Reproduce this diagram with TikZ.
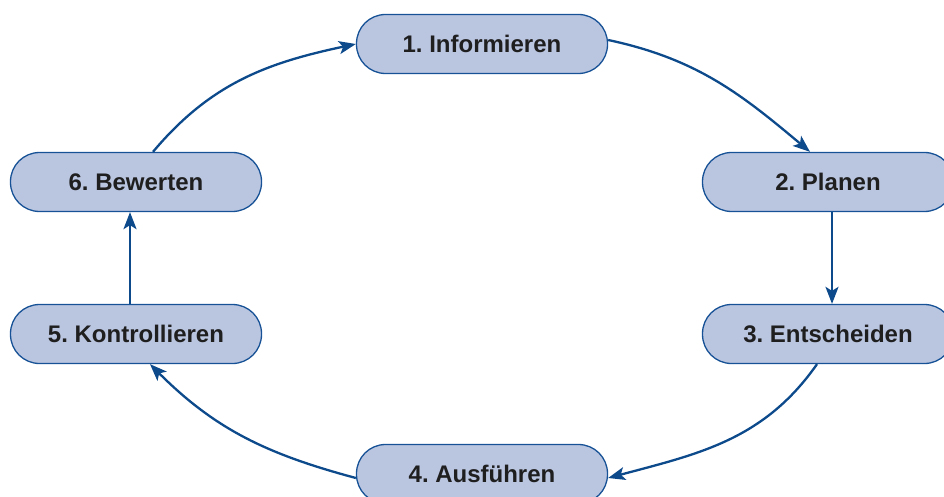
\documentclass[tikz,border=0pt]{standalone}
\usepackage{fontspec}
\setmainfont{Liberation Sans}
\usetikzlibrary{arrows.meta}
\definecolor{stepfill}{RGB}{186,197,224}
\definecolor{stepline}{RGB}{24,82,150}
\definecolor{flowblue}{RGB}{12,74,140}
\frenchspacing

\begin{document}
\begin{tikzpicture}[x=1pt,y=-1pt]
\tikzset{stepbox/.style={
    draw=stepline, fill=stepfill, line width=1.3pt,
    rounded corners=29pt, minimum width=251pt, minimum height=59pt,
    inner sep=0pt, font=\fontsize{24}{26}\selectfont\bfseries, text=black!88
},
flow/.style={
    draw=flowblue, line width=2.3pt,
    -{Stealth[length=17pt,width=13pt,inset=4pt]}
}}
    % Rahmen
    \useasboundingbox (0,0) rectangle (944,497);

    % Schritte
    \node[stepbox] (inform) at (482,44) {1. Informieren};
    \node[stepbox] (plan) at (828,182) {2. Planen};
    \node[stepbox] (decide) at (828,334) {3. Entscheiden};
    \node[stepbox] (execute) at (482,474) {4. Ausführen};
    \node[stepbox] (check) at (136,334) {5. Kontrollieren};
    \node[stepbox] (rate) at (136,182) {6. Bewerten};

% Verbindungen im Kreis
\draw[flow] ([yshift=4]inform.east) to[out=-12,in=140] ([xshift=-18]plan.north);
\draw[flow] ([xshift=4]plan.south) -- ([xshift=4]decide.north);
\draw[flow] ([xshift=-11]decide.south) to[out=-125,in=15] ([yshift=-4]execute.east);
\draw[flow] ([yshift=-4]execute.west) to[out=165,in=-45] ([xshift=14]check.south);
\draw[flow] ([xshift=-6]check.north) -- ([xshift=-6]rate.south);
\draw[flow] ([xshift=17]rate.north) to[out=50,in=-168] (inform.west);

\end{tikzpicture}
\end{document}
